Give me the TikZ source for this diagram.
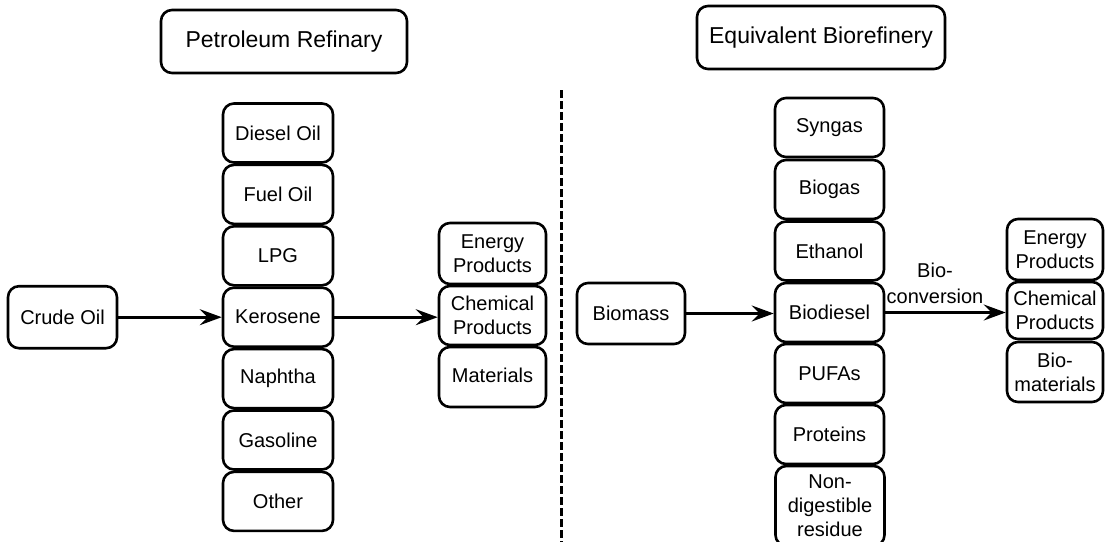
\documentclass[tikz,border=0pt]{standalone}
\usepackage{fontspec}
\setmainfont{Liberation Sans}
\usetikzlibrary{arrows.meta}
\begin{document}
\begin{tikzpicture}[x=1pt,y=-1pt,
  box/.style={draw, line width=2.6pt, rounded corners=11pt, align=center, inner sep=0pt,
              font=\fontsize{20}{24}\selectfont},
  titlebox/.style={box, minimum height=63pt, font=\fontsize{23}{27}\selectfont},
  stackL/.style={box, minimum width=110pt, minimum height=59pt},
  stackR/.style={box, minimum width=109pt, minimum height=59pt},
  outL/.style={box, minimum width=107pt, minimum height=59pt},
  outR/.style={box, minimum width=96pt, minimum height=59pt},
  arr/.style={line width=2.6pt, -{Stealth[length=22pt,width=16pt,inset=8pt]}},
  sep/.style={line width=3pt, dash pattern=on 8pt off 3pt}
]
\useasboundingbox (0,0) rectangle (1105,541);
\clip (0,0) rectangle (1105,541);

% Titles
\node[titlebox, minimum width=246pt] (tl) at (284,41.5) {Petroleum Refinary};
\node[titlebox, minimum width=248pt] (tr) at (821,37.5) {Equivalent Biorefinery};

% Left side
\node[box, minimum width=109pt, minimum height=62pt] (crude) at (62.5,317.2) {Crude Oil};
\node[stackL] (diesel) at (278,133) {Diesel Oil};
\node[stackL] (fuel) at (278,194.4) {Fuel Oil};
\node[stackL] (lpg) at (278,255.8) {LPG};
\node[stackL] (kero) at (278,317.2) {Kerosene};
\node[stackL] (naph) at (278,378.6) {Naphtha};
\node[stackL] (gaso) at (278,440) {Gasoline};
\node[stackL] (other) at (278,501.4) {Other};

\node[outL, minimum height=61pt] (enL) at (492.5,253.5) {Energy\\Products};
\node[outL] (chL) at (492.5,315.5) {Chemical\\Products};
\node[outL, minimum height=60pt] (maL) at (492.5,377) {\raisebox{4pt}{Materials}};

\draw[arr] (crude.east) -- (kero.west);
\draw[arr] (kero.east) -- (kero.east -| chL.west);

% Separator
\coordinate (s1) at (561,90);
\coordinate (s2) at (561,545);
\draw[sep] (s1) -- (s2);

% Right side
\node[box, minimum width=108pt, minimum height=61pt] (biomass) at (631,313.5) {Biomass};
\node[stackR] (syngas) at (829.5,127.5) {Syngas};
\node[stackR] (biogas) at (829.5,189.5) {Biogas};
\node[stackR] (ethanol) at (829.5,251) {Ethanol};
\node[stackR] (biodiesel) at (829.5,312.5) {Biodiesel};
\node[stackR] (pufa) at (829.5,373.5) {PUFAs};
\node[stackR] (prot) at (829.5,434.5) {Proteins};
\node[stackR, minimum height=80pt] (nondig) at (830,506) {Non-\\digestible\\residue};

\node[outR, minimum height=61pt] (enR) at (1055,249.5) {Energy\\Products};
\node[outR, minimum height=57pt] (chR) at (1055,310.5) {Chemical\\Products};
\node[outR, minimum height=60pt] (bmR) at (1055,372) {Bio-\\materials};

\draw[arr] (biomass.east) -- (biomass.east -| biodiesel.west);
\draw[arr] (biodiesel.east) -- (biodiesel.east -| chR.west);
\node[font=\fontsize{20}{26}\selectfont, align=center, inner sep=0pt] (biolab) at (935,283) {Bio-\\conversion};

\end{tikzpicture}
\end{document}
